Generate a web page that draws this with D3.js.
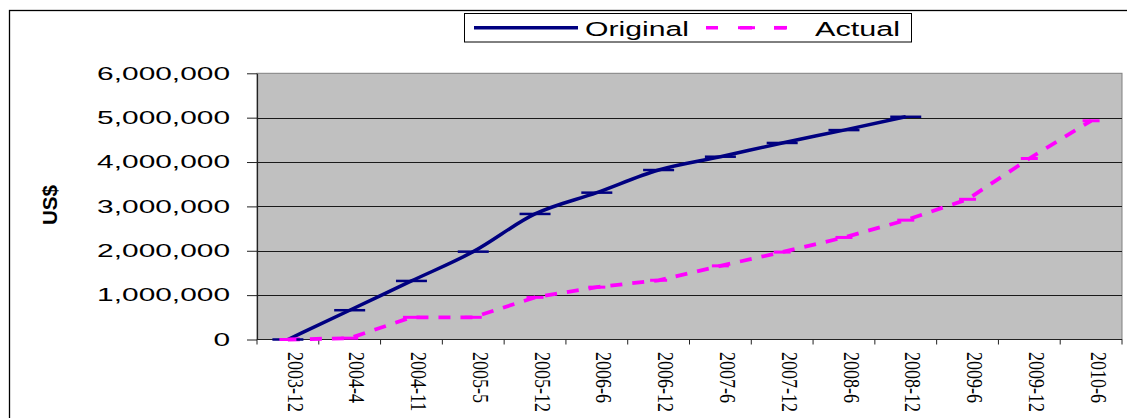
<!DOCTYPE html>
<html>
<head>
<meta charset="utf-8">
<script src="https://cdn.jsdelivr.net/npm/d3@7"></script>
<style>
  html, body { margin: 0; padding: 0; background: #fff; overflow: hidden; }
  svg { display: block; }
</style>
</head>
<body>
<svg id="chart" width="1127" height="418"></svg>
<script>
// Reporting periods (category axis)
const periods = ["2003-12", "2004-4", "2004-11", "2005-5", "2005-12", "2006-6", "2006-12",
                 "2007-6", "2007-12", "2008-6", "2008-12", "2009-6", "2009-12", "2010-6"];

// Cumulative spend, US$
const originalPlan = [0, 660000, 1320000, 1980000, 2830000, 3310000, 3820000,
                      4120000, 4430000, 4720000, 5020000];
const actualSpend  = [0, 30000, 500000, 500000, 950000, 1180000, 1335000,
                      1660000, 1970000, 2300000, 2690000, 3160000, 4080000, 4930000];

const yTicks = [0, 1000000, 2000000, 3000000, 4000000, 5000000, 6000000];
const seriesNames = ["Original", "Actual"];

const W = 1127, H = 418;
const plot = { left: 257, right: 1122, top: 73.3, bottom: 339.5 };
const NAVY = "#000080", PINK = "#FF00FF";

const svg = d3.select("#chart");

// Outer chart frame (extends past the right and bottom edges)
svg.append("rect")
  .attr("x", 9.5).attr("y", 10.5).attr("width", W + 20).attr("height", H + 20)
  .attr("fill", "#fff").attr("stroke", "#000").attr("stroke-width", 1.3);

const x = d3.scaleBand().domain(periods).range([plot.left, plot.right]).padding(0);
const y = d3.scaleLinear().domain([0, 6000000]).range([plot.bottom, plot.top]);
const cx = d => x(d) + x.bandwidth() / 2;

// Plot area
svg.append("rect")
  .attr("x", plot.left).attr("y", plot.top)
  .attr("width", plot.right - plot.left).attr("height", plot.bottom - plot.top)
  .attr("fill", "#C0C0C0").attr("stroke", "#808080").attr("stroke-width", 1);

// Horizontal gridlines
svg.append("g").selectAll("line")
  .data(yTicks.filter(v => v > 0 && v < 6000000))
  .join("line")
  .attr("x1", plot.left).attr("x2", plot.right)
  .attr("y1", d => Math.round(y(d)) + 0.5).attr("y2", d => Math.round(y(d)) + 0.5)
  .attr("stroke", "#1a1a1a").attr("stroke-width", 1);

// Y axis
const yAxis = d3.axisLeft(y).tickValues(yTicks).tickSizeInner(10).tickSizeOuter(0)
  .tickFormat(d3.format(","));
const gy = svg.append("g").attr("transform", `translate(${plot.left},0)`).call(yAxis);
gy.select(".domain").attr("stroke", "#222").attr("stroke-width", 1.2);
gy.selectAll(".tick line").attr("stroke", "#222");
gy.selectAll(".tick text")
  .attr("font-family", "Liberation Sans, Arial, sans-serif")
  .attr("font-size", 18)
  .attr("fill", "#000")
  .attr("x", -27 / 1.66)
  .attr("transform", "scale(1.66,1)");

// X axis baseline and boundary ticks
svg.append("line")
  .attr("x1", plot.left).attr("x2", plot.right)
  .attr("y1", plot.bottom).attr("y2", plot.bottom)
  .attr("stroke", "#222").attr("stroke-width", 1.2);
const bounds = periods.map(p => x(p)).concat([x(periods[periods.length - 1]) + x.bandwidth()]);
svg.append("g").selectAll("line").data(bounds).join("line")
  .attr("x1", d => d).attr("x2", d => d)
  .attr("y1", plot.bottom).attr("y2", plot.bottom + 5)
  .attr("stroke", "#222").attr("stroke-width", 1);

// Rotated period labels
svg.append("g").selectAll("text").data(periods).join("text")
  .attr("transform", d => `translate(${cx(d) + 7.5},352) rotate(90) scale(1,1.3)`)
  .attr("font-family", "Liberation Serif, Times New Roman, serif")
  .attr("font-size", 18)
  .attr("dominant-baseline", "central")
  .attr("text-anchor", "start")
  .attr("fill", "#000")
  .text(d => d);

// Y axis title
svg.append("text")
  .attr("transform", "translate(50,205) rotate(-90)")
  .attr("font-family", "Liberation Sans, Arial, sans-serif")
  .attr("font-weight", "bold")
  .attr("font-size", 20)
  .attr("text-anchor", "middle")
  .attr("dominant-baseline", "central")
  .attr("textLength", 40)
  .attr("lengthAdjust", "spacingAndGlyphs")
  .text("US$");

// Series lines
const origPts = originalPlan.map((v, i) => [cx(periods[i]), y(v)]);
const actPts = actualSpend.map((v, i) => [cx(periods[i]), y(v)]);

svg.append("path")
  .attr("d", d3.line().curve(d3.curveMonotoneX)(origPts))
  .attr("fill", "none").attr("stroke", NAVY).attr("stroke-width", 3.5)
  .attr("stroke-linejoin", "round");

svg.append("path")
  .attr("d", d3.line()(actPts))
  .attr("fill", "none").attr("stroke", PINK).attr("stroke-width", 3.8)
  .attr("stroke-dasharray", "12,10");

// Dash markers
svg.append("g").selectAll("line").data(origPts).join("line")
  .attr("x1", d => d[0] - 15.5).attr("x2", d => d[0] + 15.5)
  .attr("y1", d => d[1]).attr("y2", d => d[1])
  .attr("stroke", NAVY).attr("stroke-width", 2.5);

svg.append("g").selectAll("line").data(actPts).join("line")
  .attr("x1", d => d[0] - 8.5).attr("x2", d => d[0] + 8.5)
  .attr("y1", d => d[1]).attr("y2", d => d[1])
  .attr("stroke", PINK).attr("stroke-width", 3);

// Legend
const lg = svg.append("g");
lg.append("rect")
  .attr("x", 464.5).attr("y", 13.5).attr("width", 447).attr("height", 28.5)
  .attr("fill", "#fff").attr("stroke", "#000").attr("stroke-width", 1);
lg.append("line")
  .attr("x1", 474).attr("x2", 578).attr("y1", 27.7).attr("y2", 27.7)
  .attr("stroke", NAVY).attr("stroke-width", 3.5);
lg.append("line")
  .attr("x1", 706).attr("x2", 787).attr("y1", 27.7).attr("y2", 27.7)
  .attr("stroke", PINK).attr("stroke-width", 3.5)
  .attr("stroke-dasharray", "12,22");
lg.append("line")
  .attr("x1", 738).attr("x2", 755).attr("y1", 27.7).attr("y2", 27.7)
  .attr("stroke", PINK).attr("stroke-width", 3);
lg.append("line")
  .attr("x1", 774).attr("x2", 787).attr("y1", 27.7).attr("y2", 27.7)
  .attr("stroke", PINK).attr("stroke-width", 3.5);
const legendText = [
  { name: seriesNames[0], x: 585, len: 104 },
  { name: seriesNames[1], x: 815, len: 85 }
];
lg.selectAll("text.lbl").data(legendText).join("text")
  .attr("class", "lbl")
  .attr("x", d => d.x).attr("y", 36)
  .attr("font-family", "Liberation Sans, Arial, sans-serif")
  .attr("font-size", 20)
  .attr("textLength", d => d.len)
  .attr("lengthAdjust", "spacingAndGlyphs")
  .attr("fill", "#000")
  .text(d => d.name);
</script>
</body>
</html>
